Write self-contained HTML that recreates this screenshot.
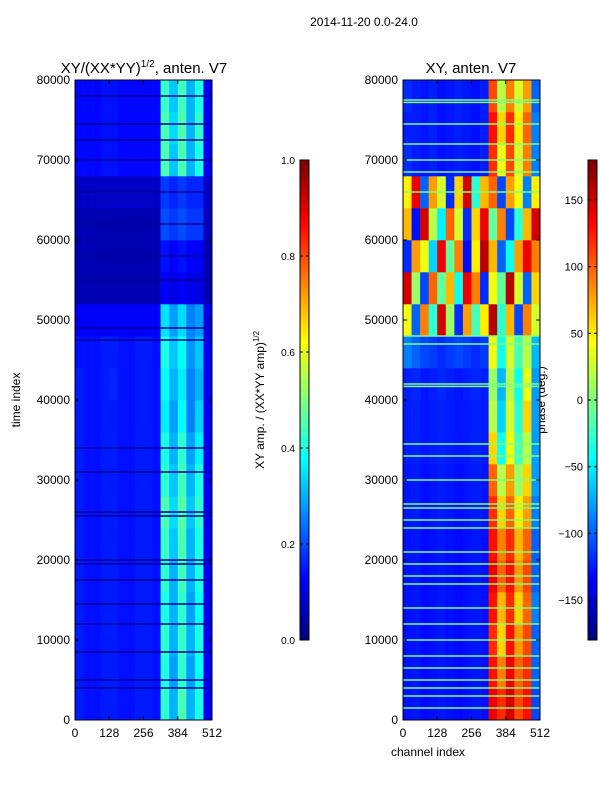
<!DOCTYPE html>
<html><head><meta charset="utf-8"><style>
body{margin:0;background:#fff;}
svg{display:block;font-family:"Liberation Sans",sans-serif;}
</style></head><body>
<svg id="fig" width="600" height="800" viewBox="0 0 600 800" xmlns="http://www.w3.org/2000/svg">
<rect width="600" height="800" fill="#fff"/>
<text x="364" y="26" font-size="12" text-anchor="middle">2014-11-20 0.0-24.0</text>
<text x="144" y="73" font-size="15" text-anchor="middle">XY/(XX*YY)<tspan font-size="10" dy="-6">1/2</tspan><tspan dy="6">, anten. V7</tspan></text>
<text x="471" y="73" font-size="15" text-anchor="middle">XY, anten. V7</text>
<text transform="translate(20,400) rotate(-90)" font-size="12" text-anchor="middle">time index</text>
<text x="428" y="756" font-size="12" text-anchor="middle">channel index</text>
<text transform="translate(264,400) rotate(-90)" font-size="12" text-anchor="middle">XY amp. / (XX*YY amp)<tspan font-size="8" dy="-5">1/2</tspan></text>
<text transform="translate(545,400) rotate(-90)" font-size="12" text-anchor="middle">phase (deg.)</text>
<g id="g"></g>
</svg>
<script>
// ---- data ----
const channelBins=[0,32,64,96,128,160,192,224,256,288,320,352,384,416,448,480];
const timeBins=[0,4000,8000,12000,16000,20000,24000,28000,32000,36000,40000,44000,48000,52000,56000,60000,64000,68000,72000,76000];
const ampValues=[
[0.15,0.14,0.14,0.15,0.15,0.14,0.14,0.15,0.15,0.14,0.42,0.3,0.45,0.3,0.4,0.12],
[0.15,0.14,0.14,0.15,0.15,0.14,0.14,0.15,0.15,0.14,0.4,0.28,0.42,0.28,0.38,0.12],
[0.15,0.14,0.14,0.15,0.15,0.14,0.14,0.15,0.15,0.14,0.42,0.3,0.43,0.3,0.4,0.12],
[0.15,0.14,0.14,0.15,0.15,0.14,0.14,0.15,0.15,0.14,0.4,0.3,0.42,0.28,0.38,0.12],
[0.15,0.14,0.14,0.15,0.15,0.14,0.14,0.15,0.15,0.14,0.42,0.3,0.44,0.3,0.4,0.12],
[0.15,0.14,0.14,0.15,0.15,0.14,0.14,0.15,0.15,0.14,0.43,0.32,0.45,0.3,0.4,0.12],
[0.15,0.14,0.14,0.15,0.15,0.14,0.14,0.15,0.15,0.14,0.45,0.34,0.46,0.32,0.42,0.12],
[0.15,0.14,0.14,0.15,0.15,0.14,0.14,0.15,0.15,0.14,0.42,0.32,0.44,0.3,0.4,0.12],
[0.15,0.14,0.14,0.15,0.15,0.14,0.14,0.15,0.15,0.14,0.4,0.3,0.42,0.28,0.36,0.12],
[0.15,0.14,0.14,0.15,0.15,0.14,0.14,0.15,0.15,0.14,0.36,0.28,0.38,0.25,0.33,0.12],
[0.15,0.14,0.14,0.15,0.16,0.14,0.14,0.15,0.15,0.14,0.38,0.3,0.36,0.25,0.3,0.12],
[0.14,0.14,0.14,0.15,0.15,0.14,0.14,0.15,0.15,0.14,0.4,0.32,0.38,0.27,0.32,0.12],
[0.12,0.12,0.12,0.12,0.12,0.12,0.12,0.12,0.12,0.12,0.35,0.28,0.34,0.25,0.28,0.1],
[0.05,0.05,0.05,0.05,0.05,0.05,0.05,0.05,0.05,0.05,0.12,0.1,0.12,0.1,0.1,0.05],
[0.05,0.05,0.05,0.05,0.05,0.05,0.05,0.05,0.05,0.05,0.14,0.12,0.14,0.12,0.12,0.05],
[0.05,0.05,0.05,0.05,0.05,0.05,0.05,0.05,0.05,0.05,0.2,0.18,0.2,0.18,0.18,0.06],
[0.07,0.07,0.07,0.07,0.07,0.07,0.07,0.07,0.07,0.07,0.18,0.16,0.18,0.16,0.16,0.07],
[0.13,0.13,0.13,0.14,0.14,0.13,0.13,0.13,0.13,0.13,0.45,0.32,0.45,0.3,0.4,0.12],
[0.13,0.13,0.13,0.14,0.14,0.13,0.13,0.13,0.13,0.13,0.45,0.34,0.45,0.3,0.42,0.12],
[0.13,0.13,0.13,0.14,0.14,0.13,0.13,0.13,0.13,0.13,0.43,0.32,0.44,0.3,0.4,0.12]];
const phaseValues=[
[-130,-128,-132,-130,-128,-130,-132,-130,-128,-130,140,120,150,110,130,-110],
[-130,-128,-132,-130,-128,-130,-132,-130,-128,-130,130,90,140,100,120,-100],
[-130,-128,-132,-130,-128,-130,-132,-130,-128,-130,120,60,130,80,110,-100],
[-130,-128,-132,-130,-128,-130,-132,-130,-128,-130,130,70,120,60,100,-90],
[-130,-128,-132,-130,-128,-130,-132,-130,-128,-130,140,100,130,80,110,-100],
[-130,-128,-132,-130,-128,-130,-132,-130,-128,-130,130,90,120,70,100,-100],
[-128,-126,-130,-128,-126,-128,-130,-128,-126,-128,120,60,100,50,80,-90],
[-128,-126,-130,-128,-126,-128,-130,-128,-126,-128,100,20,80,10,60,-80],
[-126,-124,-128,-126,-124,-126,-128,-126,-124,-126,60,-40,40,-20,20,-80],
[-126,-124,-128,-126,-124,-126,-128,-126,-124,-126,20,-60,30,-30,60,-80],
[-125,-122,-128,-125,-122,-125,-128,-125,-122,-125,10,-70,20,-40,40,-80],
[-90,-100,-110,-115,-120,-115,-110,-115,-120,-115,40,-40,30,-20,20,-70],
[40,-100,90,-30,150,10,-120,80,-20,50,160,-30,70,-110,90,30],
[150,10,-110,100,-10,70,-40,140,90,-120,40,-10,160,30,-100,60],
[-120,80,40,-60,140,-10,90,-130,50,160,70,-100,-40,80,140,90],
[70,-130,150,20,-50,100,30,-120,60,140,-10,90,-110,-30,70,150],
[50,140,-100,80,30,-120,60,150,-30,70,100,-110,80,40,-90,50],
[-120,-125,-128,-125,-130,-128,-125,-128,-130,-125,120,40,110,30,90,-90],
[-125,-125,-128,-125,-130,-128,-125,-128,-130,-125,130,60,120,50,100,-90],
[-120,-125,-128,-125,-130,-128,-125,-128,-130,-125,110,20,90,30,80,-100]];
const ampDarkLines=[78000,74500,72500,70000,66000,62000,58000,55000,49000,47500,34000,31000,26000,25500,20000,19500,17500,14500,12000,8500,5000,4000];
const phaseGreenLines=[77500,77200,74500,72000,70000,68500,66000,48000,47000,42000,41700,34500,33000,30000,27000,26500,25000,24000,21000,19500,18000,17000,14000,12000,10000,8000,6500,5000,4000,3000,1500];
const yTicks=[0,10000,20000,30000,40000,50000,60000,70000,80000];
const xTicks=[0,128,256,384,512];
const ampTicks=[0.0,0.2,0.4,0.6,0.8,1.0];
const phaseTicks=[-150,-100,-50,0,50,100,150];

// ---- helpers ----
const NS="http://www.w3.org/2000/svg";
const G=document.getElementById('g');
function el(tag,attrs,parent){const e=document.createElementNS(NS,tag);for(const k in attrs)e.setAttribute(k,attrs[k]);(parent||G).appendChild(e);return e;}
function jet(v){v=Math.max(0,Math.min(1,v));const c=x=>Math.round(255*Math.max(0,Math.min(1,1.5-Math.abs(4*v-x))));return `rgb(${c(3)},${c(2)},${c(1)})`;}
const PT=80,PH=640,PW=137;
const yScale=t=>PT+PH-t/80000*PH;
const xScale=(x0,c)=>x0+c/512*PW;

function panel(x0,values,norm,lines,lineColor,lineH,name){
  const g=el('g',{});
  
  
  values.forEach((row,ri)=>{
    row.forEach((v,ci)=>{
      const x=xScale(x0,channelBins[ci]),x2=xScale(x0,ci+1<channelBins.length?channelBins[ci+1]:512);
      const y=yScale(timeBins[ri]+4000),y2=yScale(timeBins[ri]);
      const r=el('rect',{x:x,y:y,width:x2-x+0.3,height:y2-y+0.3,fill:jet(norm(v))},g);
      
      
    });
  });
  lines.forEach(t=>{
    const r=el('rect',{x:x0,y:yScale(t)-lineH/2,width:PW,height:lineH,fill:lineColor},g);
    
    
  });
  const f=el('rect',{x:x0,y:PT,width:PW,height:PH,fill:'none',stroke:'#000','stroke-width':1});
  
  
  yTicks.forEach(t=>{
    const y=yScale(t);
    el('line',{x1:x0,x2:x0+4,y1:y,y2:y,stroke:'#000'});
    el('line',{x1:x0+PW,x2:x0+PW-4,y1:y,y2:y,stroke:'#000'});
    const tx=el('text',{x:x0-5,y:y+4,'font-size':12,'text-anchor':'end'});
    tx.textContent=t;
    
    
  });
  xTicks.forEach(c=>{
    const x=xScale(x0,c);
    el('line',{x1:x,x2:x,y1:PT+PH,y2:PT+PH-4,stroke:'#000'});
    el('line',{x1:x,x2:x,y1:PT,y2:PT+4,stroke:'#000'});
    const tx=el('text',{x:x,y:PT+PH+17,'font-size':12,'text-anchor':'middle'});
    tx.textContent=c;
    
    
  });
}
panel(75,ampValues,v=>v,ampDarkLines,'#00008f',1.5,'amp-heatmap');
panel(403,phaseValues,v=>(v+180)/360,phaseGreenLines,'#80ff80',1.5,'phase-heatmap');

function colorbar(x0,vmin,vmax,ticks,name,isAmp){
  const top=160,h=480,w=9;
  const g=el('g',{});
  
  
  for(let i=0;i<120;i++){
    const v=i/119;
    el('rect',{x:x0,y:top+h-(i+1)*h/120,width:w,height:h/120+0.5,fill:jet(v)},g);
  }
  el('rect',{x:x0,y:top,width:w,height:h,fill:'none',stroke:'#000'},g);
  ticks.forEach(t=>{
    const y=top+h-(t-vmin)/(vmax-vmin)*h;
    el('line',{x1:x0,x2:x0+3,y1:y,y2:y,stroke:'#000'},g);
    el('line',{x1:x0+w,x2:x0+w-3,y1:y,y2:y,stroke:'#000'},g);
    const tx=el('text',{x:x0-5,y:y+4,'font-size':isAmp?10:11,'text-anchor':'end'},g);
    tx.textContent=isAmp?t.toFixed(1):(t<0?'\u2212'+(-t):t);
    
    
  });
}
colorbar(300,0,1,ampTicks,'amp-colorbar',true);
colorbar(588,-180,180,phaseTicks,'phase-colorbar',false);
</script>
</body></html>
